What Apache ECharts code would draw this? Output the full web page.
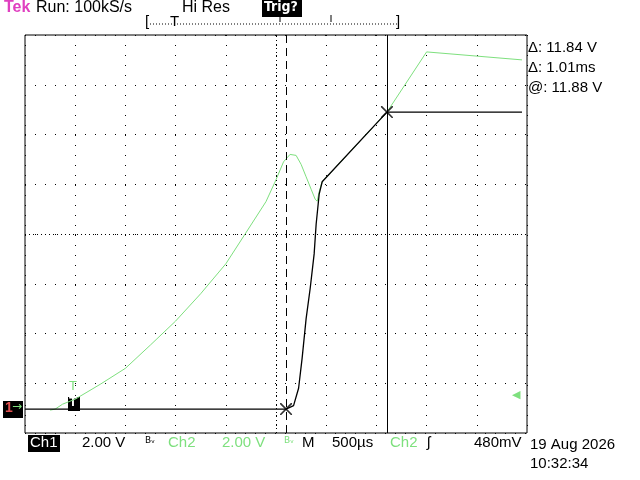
<!DOCTYPE html>
<html><head><meta charset="utf-8">
<script src="https://cdn.jsdelivr.net/npm/echarts@6/dist/echarts.min.js"></script>
<style>html,body{margin:0;background:#fff}#c{width:640px;height:480px}</style>
</head><body><div id="c"></div>
<script>
let chart = echarts.init(document.getElementById('c'));

// screen divisions (x 0..10, y 0..8)
const ch1X = [0, 5.2, 5.35, 5.45, 5.52, 5.6, 5.68, 5.76, 5.8, 5.86, 5.92, 7.21, 9.9];
const ch1Y = [0.48, 0.48, 0.55, 0.9, 1.5, 2.3, 2.9, 3.6, 4.2, 4.8, 5.05, 6.45, 6.45];
const ch2X = [0.5, 0.6, 0.75, 1.0, 1.5, 2.0, 2.5, 3.0, 3.5, 4.0, 4.5, 4.8, 5.0, 5.15, 5.28, 5.4, 5.5, 5.6, 5.7, 5.78, 5.82, 5.86, 5.92, 7.21, 8.0, 9.9];
const ch2Y = [0.46, 0.48, 0.58, 0.68, 0.98, 1.3, 1.77, 2.25, 2.8, 3.4, 4.18, 4.65, 5.09, 5.45, 5.6, 5.58, 5.4, 5.15, 4.9, 4.7, 4.66, 4.85, 5.05, 6.45, 7.66, 7.5];
const cursorsX = [5.2, 7.21];
const crossPts = [[5.2, 0.48], [7.21, 6.45]];
const readouts = ['\u0394: 11.84 V', '\u0394: 1.01ms', '@: 11.88 V'];

const cross = 'path://M0 0L1 0L10 9L10 10L9 10L0 1Z M9 0L10 0L10 1L1 10L0 10L0 9Z';
const txt = (x, y, s, c, extra) => Object.assign({type: 'text', left: x, top: y,
  style: {text: s, fill: c || '#000', font: '15px "Liberation Sans"'}}, extra || {});

chart.setOption({
  animation: false,
  backgroundColor: '#fff',
  grid: {left: 25, right: 113, top: 35, bottom: 47, show: true, borderColor: '#000', borderWidth: 1},
  xAxis: {type: 'value', min: 0, max: 10, interval: 1, axisLabel: {show: false}, axisTick: {show: false},
    axisLine: {show: false}, splitLine: {lineStyle: {color: '#000', type: [1, 9], width: 1}}},
  yAxis: {type: 'value', min: 0, max: 8, interval: 1, axisLabel: {show: false}, axisTick: {show: false},
    axisLine: {show: false}, splitLine: {lineStyle: {color: '#000', type: [1, 9], width: 1}}},
  series: [
    {type: 'line', data: ch2X.map((x, i) => [x, ch2Y[i]]), showSymbol: false,
      lineStyle: {color: '#7ee07e', width: 1}},
    {type: 'line', data: ch1X.map((x, i) => [x, ch1Y[i]]), showSymbol: false,
      lineStyle: {color: '#000', width: 1.3},
      markLine: {silent: true, symbol: 'none', label: {show: false},
        data: [
          {xAxis: cursorsX[0], lineStyle: {type: [8, 5], color: '#000', width: 1}},
          {xAxis: cursorsX[1], lineStyle: {type: 'solid', color: '#000', width: 1}},
          {yAxis: 4, lineStyle: {type: [1, 3], color: '#000', width: 1}},
          {xAxis: 5, lineStyle: {type: [1, 3], color: '#000', width: 1}}
        ]}},
    {type: 'scatter', data: crossPts, symbol: cross, symbolSize: 12, itemStyle: {color: '#000'}, z: 5}
  ],
  graphic: [
    txt(4, 0, 'Tek', '#e040c0', {style: {text: 'Tek', fill: '#e040c0', font: 'bold 16px "Liberation Sans"'}}),
    txt(36, 0, 'Run: 100kS/s', '#000', {style: {text: 'Run: 100kS/s', fill: '#000', font: '16px "Liberation Sans"'}}),
    txt(182, 0, 'Hi Res', '#000', {style: {text: 'Hi Res', fill: '#000', font: '16px "Liberation Sans"'}}),
    {type: 'rect', left: 262, top: 0, shape: {width: 40, height: 17}, style: {fill: '#000'}},
    txt(264, 0, 'Trig?', '#fff', {style: {text: 'Trig?', fill: '#fff', font: 'bold 14px "DejaVu Sans Condensed"'}}),
    {type: 'line', shape: {x1: 150, y1: 24, x2: 399, y2: 24}, style: {stroke: '#000', lineDash: [1, 2]}},
    txt(145, 14, '['), txt(396, 14, ']'), txt(170, 14, 'T'),
    {type: 'line', shape: {x1: 280, y1: 15, x2: 280, y2: 22}, style: {stroke: '#000'}},
    {type: 'line', shape: {x1: 331, y1: 15, x2: 331, y2: 22}, style: {stroke: '#000'}},
    txt(528, 40, readouts[0]), txt(528, 60, readouts[1]), txt(528, 80, readouts[2]),
    {type: 'rect', left: 3, top: 401, shape: {width: 20, height: 17}, style: {fill: '#000'}},
    txt(5, 401, '1', '#e05050', {style: {text: '1', fill: '#e05050', font: 'bold 14px "Liberation Sans"'}}),
    txt(12, 401, '\u2192', '#7ee07e', {style: {text: '\u2192', fill: '#7ee07e', font: '12px "DejaVu Sans"'}}),
    {type: 'rect', left: 68, top: 397, shape: {width: 12, height: 14}, style: {fill: '#000'}},
    txt(69, 396, 'T', '#fff', {style: {text: 'T', fill: '#fff', font: 'bold 13px "Liberation Sans"'}}),
    txt(69, 380, 'T', '#7ee07e', {style: {text: 'T', fill: '#7ee07e', font: '13px "Liberation Sans"'}}),
    txt(512, 390, '\u25c0', '#7ee07e', {style: {text: '\u25c0', fill: '#7ee07e', font: '11px "DejaVu Sans"'}}),
    {type: 'rect', left: 28, top: 435, shape: {width: 32, height: 17}, style: {fill: '#000'}},
    txt(30, 435, 'Ch1', '#fff'),
    txt(82, 435, '2.00 V'),
    txt(145, 436, 'BW', '#000', {style: {text: 'B\u1d65', fill: '#000', font: '9px "DejaVu Sans"'}}),
    txt(168, 435, 'Ch2', '#7ee07e'),
    txt(222, 435, '2.00 V', '#7ee07e'),
    txt(284, 436, 'BW', '#7ee07e', {style: {text: 'B\u1d65', fill: '#7ee07e', font: '9px "DejaVu Sans"'}}),
    txt(302, 435, 'M'), txt(332, 435, '500\u00b5s'),
    txt(390, 435, 'Ch2', '#7ee07e'), txt(427, 435, '\u0283'),
    txt(474, 435, '480mV'),
    txt(530, 437, '19 Aug 2026'), txt(530, 456, '10:32:34')
  ]
});
</script></body></html>
